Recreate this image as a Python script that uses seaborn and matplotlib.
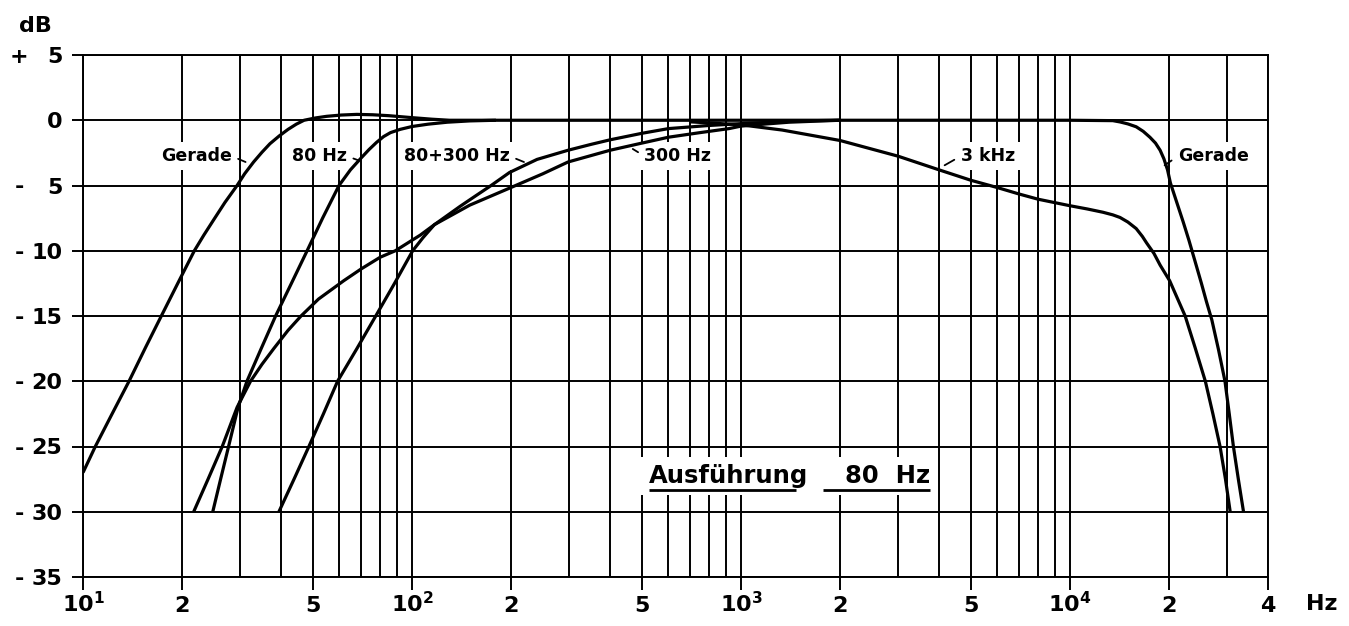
import numpy as np
import pandas as pd
import matplotlib
matplotlib.use("Agg")
import matplotlib.pyplot as plt
import matplotlib.transforms as mtransforms
from matplotlib.ticker import NullFormatter
import seaborn as sns

sns.set_theme(style="white")
plt.rcParams["font.family"] = ["DejaVu Sans"]
plt.rcParams.update({"text.color": "black", "xtick.color": "black",
                     "ytick.color": "black", "axes.labelcolor": "black"})

# curves: frequency (Hz) and level (dB)
gerade_hz = [10, 10.9, 12.2, 13.8, 15.5, 17.3, 19.5, 21.8, 23.3, 25, 27, 29.4, 31, 33, 35, 37, 39.5, 42, 44.5,
             47, 51, 55, 61, 68, 76, 85, 100, 115, 130,
             1000, 10000, 13500, 14200, 15000, 15900, 16700, 17500, 18200, 18800, 19300, 19800, 20200, 21000,
             22100, 23000, 24000, 25100, 26000, 27000, 28300, 29600, 30500, 31400, 32500, 33700]
gerade_db = [-27, -25, -22.6, -20, -17.4, -15, -12.4, -10, -8.8, -7.6, -6.3, -5, -4.1, -3.2, -2.45, -1.8, -1.2,
             -0.7, -0.3, 0, 0.18, 0.3, 0.4, 0.45, 0.42, 0.35, 0.2, 0.08, 0,
             0, 0, -0.03, -0.13, -0.28, -0.5, -0.85, -1.3, -1.75, -2.3, -2.95, -3.8, -4.8, -6.1,
             -7.8, -9.2, -10.8, -12.5, -13.9, -15.3, -17.6, -20, -22.5, -25, -27.5, -30]

hp80_hz = [24.8, 26.2, 27.7, 29.6, 31.5, 34.8, 38.5, 43, 48, 53.5, 60, 65, 70, 74, 78, 82, 86, 92, 100, 112,
           128, 150, 180]
hp80_db = [-30, -27.5, -25, -22, -20, -17.5, -15, -12.5, -10, -7.5, -5, -3.8, -2.9, -2.25, -1.7, -1.25, -0.95,
           -0.7, -0.48, -0.3, -0.15, -0.05, 0]

hp300_hz = [21.7, 24, 26.5, 29.4, 32.3, 35, 38, 42, 46, 52, 62, 70, 80, 89, 106, 117, 150, 198, 250, 298, 400,
            500, 602, 750, 920, 1000, 1200, 1400, 2000]
hp300_db = [-30, -27.5, -25, -22, -20, -18.7, -17.5, -16.1, -15, -13.7, -12.3, -11.4, -10.5, -10, -8.8, -8,
            -6.5, -5.2, -4.1, -3.2, -2.3, -1.75, -1.3, -0.95, -0.64, -0.45, -0.28, -0.15, 0]

hp80_300_hz = [39.4, 43.8, 48.6, 53.8, 59.4, 68, 77.6, 88.5, 100.5, 108, 117, 128, 140, 156, 174, 198, 240, 298,
               350, 400, 500, 602, 800, 1000, 1500, 2000]
hp80_300_db = [-30, -27.5, -25, -22.5, -20, -17.5, -15, -12.5, -10, -9, -8, -7.3, -6.6, -5.8, -5, -4, -3.0,
               -2.3, -1.85, -1.5, -1.0, -0.64, -0.4, -0.26, -0.05, 0]

lp3k_hz = [700, 1000, 1334, 2000, 3000, 4000, 5000, 6000, 7000, 8000, 10000, 11300, 12600, 13500, 14200, 15000,
           15900, 16600, 17100, 18000, 18800, 20100, 22400, 24000, 25800, 27200, 28600, 29700, 30700]
lp3k_db = [-0.12, -0.35, -0.75, -1.55, -2.75, -3.8, -4.6, -5.15, -5.65, -6.05, -6.55, -6.8, -7.05, -7.25, -7.45,
           -7.8, -8.3, -8.9, -9.4, -10.2, -11.1, -12.3, -15, -17.4, -20, -22.5, -25, -27.5, -30]

x_ticks = [10, 20, 50, 100, 200, 500, 1000, 2000, 5000, 10000, 20000, 40000]
x_labels = ["$\\mathregular{10^1}$", "2", "5", "$\\mathregular{10^2}$", "2", "5",
            "$\\mathregular{10^3}$", "2", "5", "$\\mathregular{10^4}$", "2", "4"]
x_grid = [30, 40, 60, 70, 80, 90, 300, 400, 600, 700, 800, 900,
          3000, 4000, 6000, 7000, 8000, 9000, 30000]
y_ticks = [5, 0, -5, -10, -15, -20, -25, -30, -35]
y_labels = ["5", "0", "5", "10", "15", "20", "25", "30", "35"]
y_signs = ["+", "", "-", "-", "-", "-", "-", "-", "-"]

curves = {
    "Gerade": (gerade_hz, gerade_db),
    "80 Hz": (hp80_hz, hp80_db),
    "300 Hz": (hp300_hz, hp300_db),
    "80+300 Hz": (hp80_300_hz, hp80_300_db),
    "3 kHz": (lp3k_hz, lp3k_db),
}
df = pd.concat([pd.DataFrame({"Hz": f, "dB": d, "curve": name})
                for name, (f, d) in curves.items()], ignore_index=True)

W, H = 1349, 626
fig = plt.figure(figsize=(W / 100, H / 100), dpi=100)
fig.patch.set_facecolor("white")
ax = fig.add_axes([83 / W, 49 / H, 1185 / W, 522 / H])
ax.set_xscale("log")

sns.lineplot(data=df, x="Hz", y="dB", units="curve", estimator=None, sort=False,
             color="black", linewidth=2.3, ax=ax, zorder=5,
             solid_joinstyle="round", solid_capstyle="butt")

ax.set_xlim(10, 40000)
ax.set_ylim(-35, 5)
ax.set_xlabel("")
ax.set_ylabel("")

gl = 1.4
ax.set_xticks(x_ticks, labels=x_labels)
ax.set_xticks(x_grid, minor=True)
ax.xaxis.set_minor_formatter(NullFormatter())
ax.set_yticks(y_ticks, labels=y_labels)
ax.tick_params(axis="x", which="major", length=9, width=gl, color="black", direction="out",
               pad=16, labelsize=16, bottom=True)
ax.tick_params(axis="x", which="minor", length=0)
ax.tick_params(axis="y", length=8, width=gl, color="black", direction="out", pad=7,
               labelsize=16, left=True)
for t in ax.get_xticklabels():
    t.set_va("baseline")
    t.set_fontweight("bold")
for t in ax.get_yticklabels():
    t.set_fontweight("bold")
ax.grid(True, which="both", axis="x", color="black", lw=gl)
ax.grid(True, which="major", axis="y", color="black", lw=gl)
ax.set_axisbelow(True)
for s in ax.spines.values():
    s.set_color("black")
    s.set_linewidth(gl)

# signs in front of the dB numbers
sign_tr = mtransforms.blended_transform_factory(fig.transFigure, ax.transData)
for y, s in zip(y_ticks, y_signs):
    if s:
        ax.text(19 / W, y, s, transform=sign_tr, ha="center", va="center_baseline",
                fontsize=16, fontweight="bold")

fig.text(35 / W, 1 - 26 / H, "dB", ha="center", va="center", fontsize=16, fontweight="bold")
fig.text(1322 / W, 1 - 604 / H, "Hz", ha="center", va="center", fontsize=16, fontweight="bold")

# curve labels with short leaders
label_kw = dict(fontsize=12.5, fontweight="bold", va="center", zorder=3,
                bbox=dict(boxstyle="square,pad=0.3", fc="white", ec="none"))
leader = dict(arrowstyle="-", color="black", lw=1.3, shrinkA=1, shrinkB=0)
ax.annotate("Gerade", xy=(31.2, -3.2), xytext=(28.3, -2.75), ha="right",
            arrowprops=dict(leader, relpos=(1, 0.5)), **label_kw)
ax.annotate("80 Hz", xy=(68.4, -3.05), xytext=(63.4, -2.75), ha="right",
            arrowprops=dict(leader, relpos=(1, 0.5)), **label_kw)
ax.annotate("80+300 Hz", xy=(219, -3.2), xytext=(198, -2.75), ha="right",
            arrowprops=dict(leader, relpos=(1, 0.5)), **label_kw)
ax.annotate("300 Hz", xy=(469, -2.2), xytext=(509, -2.75), ha="left",
            arrowprops=dict(leader, relpos=(0, 0.5)), **label_kw)
ax.annotate("3 kHz", xy=(4160, -3.45), xytext=(4656, -2.75), ha="left",
            arrowprops=dict(leader, relpos=(0, 0.5)), **label_kw)
ax.annotate("Gerade", xy=(19400, -3.45), xytext=(21300, -2.75), ha="left",
            arrowprops=dict(leader, relpos=(0, 0.5)), **label_kw)

# title block "Ausführung 80 Hz", underlined
box = dict(boxstyle="square,pad=0.3", fc="white", ec="none")
t1 = ax.text(524, -27.8, "Ausführung", ha="left", va="baseline", fontsize=17.5,
             fontweight="bold", zorder=3, bbox=box)
t2 = ax.text(3767, -27.8, "80  Hz", ha="right", va="baseline", fontsize=17.5,
             fontweight="bold", zorder=3, bbox=box)
fig.canvas.draw()
inv = ax.transData.inverted()
b1 = t1.get_window_extent()
b2 = t2.get_window_extent()
u1 = inv.transform([(b1.x0, 0), (b1.x1 - 12, 0)])[:, 0]
u2 = inv.transform([(b2.x0 - 22, 0), (b2.x1, 0)])[:, 0]
ax.plot(u1, [-28.3, -28.3], color="black", lw=2, zorder=4, solid_capstyle="butt")
ax.plot(u2, [-28.3, -28.3], color="black", lw=2, zorder=4, solid_capstyle="butt")

fig.savefig("out.png", dpi=100, facecolor="white")
